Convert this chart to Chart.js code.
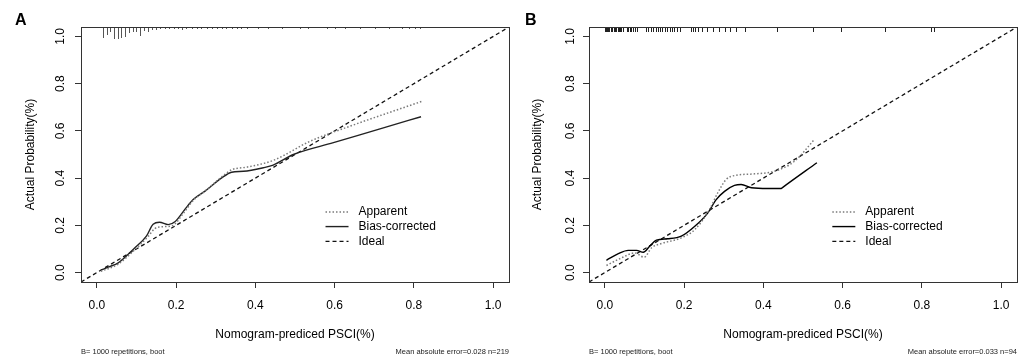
<!DOCTYPE html>
<html>
<head>
<meta charset="utf-8">
<script src="https://cdn.jsdelivr.net/npm/chart.js@4.4.1/dist/chart.umd.min.js"></script>
<style>
  body { margin: 0; background: #fff; }
  #wrap { position: relative; width: 1021px; height: 359px; }
  canvas { position: absolute; top: 0; }
</style>
</head>
<body>
<div id="wrap">
  <canvas id="chartA" width="510" height="359" style="left:0"></canvas>
  <canvas id="chartB" width="511" height="359" style="left:510px"></canvas>
</div>
<script>
// axis ticks (both panels)
const tickValues = [0, 0.2, 0.4, 0.6, 0.8, 1.0];
const ideal = [[-0.04, -0.04], [1.04, 1.04]];

// panel A  [predicted, actual]
const apparentA = [[0.01,0.005],[0.054,0.036],[0.096,0.097],[0.13,0.154],[0.146,0.186],[0.165,0.194],
  [0.19,0.198],[0.218,0.25],[0.243,0.305],[0.273,0.345],[0.315,0.405],[0.34,0.435],[0.38,0.447],
  [0.445,0.475],[0.538,0.556],[0.639,0.62],[0.82,0.725]];
const biasA = [[0.01,0.01],[0.03,0.024],[0.054,0.041],[0.096,0.105],[0.125,0.154],[0.142,0.205],
  [0.158,0.213],[0.18,0.203],[0.197,0.215],[0.222,0.267],[0.243,0.309],[0.273,0.345],[0.315,0.401],
  [0.34,0.425],[0.37,0.429],[0.42,0.444],[0.445,0.455],[0.496,0.5],[0.597,0.55],[0.723,0.613],[0.818,0.66]];
// rug of predicted values on top, with frequency
const rugAx = [0.015,0.025,0.034,0.044,0.053,0.061,0.072,0.08,0.09,0.099,0.109,0.119,0.129,0.139,0.149,
  0.16,0.171,0.181,0.194,0.205,0.214,0.226,0.239,0.252,0.264,0.277,0.29,0.302,0.315,0.327,0.34,0.353,
  0.365,0.378,0.407,0.433,0.466,0.513,0.534,0.58,0.601,0.626,0.664,0.702,0.736,0.77,0.787,0.803,0.816];
const rugAn = [11,8,5,12,12,11,10,6,5,5,9,4,5,3,3,2,2,2,2,2,3,2,2,2,2,2,2,2,2,2,2,2,
  2,2,2,2,2,2,2,2,2,2,2,2,2,2,2,2,2];

// panel B
const apparentB = [[0.004,0.03],[0.042,0.062],[0.076,0.083],[0.099,0.065],[0.118,0.105],[0.143,0.123],
  [0.193,0.147],[0.227,0.182],[0.264,0.267],[0.285,0.338],[0.306,0.394],[0.327,0.411],[0.378,0.418],
  [0.428,0.429],[0.479,0.472],[0.529,0.564]];
const biasB = [[0.004,0.052],[0.034,0.08],[0.059,0.094],[0.08,0.094],[0.097,0.086],[0.113,0.111],
  [0.13,0.137],[0.159,0.143],[0.193,0.154],[0.227,0.196],[0.26,0.253],[0.281,0.309],[0.302,0.344],
  [0.327,0.369],[0.344,0.373],[0.37,0.359],[0.411,0.356],[0.445,0.356],[0.449,0.361],[0.535,0.465]];
const rugBx = [0,0.002,0.004,0.006,0.008,0.01,0.015,0.018,0.022,0.025,0.029,0.032,0.035,0.039,0.042,
  0.046,0.055,0.059,0.064,0.067,0.071,0.076,0.08,0.103,0.109,0.116,0.122,0.128,0.134,0.139,0.144,
  0.151,0.158,0.164,0.17,0.175,0.181,0.189,0.218,0.222,0.228,0.235,0.244,0.259,0.273,0.287,0.302,
  0.317,0.331,0.354,0.434,0.526,0.596,0.707,0.824,0.831];

const FONT = "'Liberation Sans', Arial, sans-serif";
const toXY = arr => arr.map(p => ({x: p[0], y: p[1]}));

const decor = {
  id: 'decor',
  afterDatasetsDraw(chart, args, o) {
    const {ctx, chartArea: a, scales: {x, y}} = chart;
    ctx.save();
    // rug
    ctx.strokeStyle = o.rugColor;
    ctx.lineWidth = 1;
    o.rugX.forEach((v, i) => {
      const px = Math.round(x.getPixelForValue(v)) + 0.5;
      const len = o.rugN ? o.rugN[i] * o.rugUnit : o.rugUnit;
      ctx.beginPath();
      ctx.moveTo(px, a.top);
      ctx.lineTo(px, a.top + len);
      ctx.stroke();
    });
    // box
    ctx.strokeStyle = '#333';
    ctx.strokeRect(Math.round(a.left) + 0.5, Math.round(a.top) + 0.5,
      Math.round(a.right - a.left), Math.round(a.bottom - a.top));
    // legend
    const lx = x.getPixelForValue(o.legendAt[0]);
    let ly = y.getPixelForValue(o.legendAt[1]);
    ctx.font = '12px ' + FONT;
    ctx.textBaseline = 'middle';
    ctx.textAlign = 'left';
    chart.data.datasets.forEach(ds => {
      ctx.save();
      ctx.strokeStyle = ds.borderColor;
      ctx.lineWidth = ds.borderWidth;
      ctx.setLineDash(ds.borderDash || []);
      ctx.beginPath();
      ctx.moveTo(lx, ly);
      ctx.lineTo(lx + 23, ly);
      ctx.stroke();
      ctx.restore();
      ctx.fillStyle = '#000';
      ctx.fillText(ds.label, lx + 33, ly);
      ly += 14.7;
    });
    // panel letter
    ctx.font = 'bold 16px ' + FONT;
    ctx.fillStyle = '#000';
    ctx.textBaseline = 'alphabetic';
    ctx.fillText(o.letter, o.letterX, 25);
    // footers
    ctx.font = '7.5px ' + FONT;
    ctx.fillStyle = '#222';
    ctx.textBaseline = 'middle';
    ctx.fillText('B= 1000 repetitions, boot', a.left, 352);
    ctx.textAlign = 'right';
    ctx.fillText(o.footer, a.right, 352);
    ctx.restore();
  }
};

function makeChart(id, apparent, bias, opts) {
  return new Chart(document.getElementById(id), {
    type: 'scatter',
    data: {
      datasets: [
        {label: 'Apparent', data: toXY(apparent), borderColor: '#7a7a7a', borderWidth: 1.5,
          borderDash: [1.5, 2]},
        {label: 'Bias-corrected', data: toXY(bias), borderColor: opts.biasColor, borderWidth: 1.4},
        {label: 'Ideal', data: toXY(ideal), borderColor: '#111', borderWidth: 1.3,
          borderDash: [4, 3], cubicInterpolationMode: 'default', tension: 0}
      ]
    },
    options: {
      responsive: false,
      animation: false,
      devicePixelRatio: 1,
      showLine: true,
      elements: {
        point: {radius: 0, hoverRadius: 0},
        line: {cubicInterpolationMode: 'monotone', fill: false}
      },
      layout: {padding: {left: 0, right: opts.padRight, top: 27, bottom: 0}},
      plugins: {
        legend: {display: false},
        tooltip: {enabled: false},
        decor: opts.decor
      },
      scales: {
        x: {
          type: 'linear', min: -0.04, max: 1.04,
          afterBuildTicks: s => { s.ticks = tickValues.map(v => ({value: v})); },
          afterFit: s => { s.height = 77; s.paddingLeft = 0; s.paddingRight = 0; },
          grid: {display: true, drawOnChartArea: false, drawTicks: true, tickLength: 6, color: '#333'},
          border: {display: true, color: '#333'},
          ticks: {padding: 10, color: '#000', font: {family: FONT, size: 12},
            callback: v => v.toFixed(1)},
          title: {display: true, text: 'Nomogram-prediced PSCI(%)', color: '#000',
            font: {family: FONT, size: 12}, padding: {top: 0, bottom: 17}}
        },
        y: {
          type: 'linear', min: -0.04, max: 1.04,
          afterBuildTicks: s => { s.ticks = tickValues.map(v => ({value: v})); },
          afterFit: s => { s.width = opts.yWidth; s.paddingTop = 0; s.paddingBottom = 0; },
          grid: {display: true, drawOnChartArea: false, drawTicks: true, tickLength: 6, color: '#333'},
          border: {display: true, color: '#333'},
          ticks: {padding: opts.yTickPad, color: '#000', font: {family: FONT, size: 12},
            minRotation: 90, maxRotation: 90, crossAlign: 'center',
            callback: v => v.toFixed(1)},
          title: {display: true, text: 'Actual Probability(%)', color: '#000',
            font: {family: FONT, size: 12}, padding: {top: opts.yTitlePad, bottom: 0}}
        }
      }
    },
    plugins: [decor]
  });
}

makeChart('chartA', apparentA, biasA, {
  biasColor: '#222', padRight: 1, yWidth: 81, yTickPad: 6, yTitlePad: 23,
  decor: {rugX: rugAx, rugN: rugAn, rugUnit: 1, rugColor: '#555', legendAt: [0.577, 0.257],
    letter: 'A', letterX: 15, footer: 'Mean absolute error=0.028 n=219'}
});
makeChart('chartB', apparentB, biasB, {
  biasColor: '#000', padRight: 4, yWidth: 79, yTickPad: 4, yTitlePad: 20,
  decor: {rugX: rugBx, rugUnit: 5, rugColor: '#222', legendAt: [0.574, 0.257],
    letter: 'B', letterX: 15, footer: 'Mean absolute error=0.033 n=94'}
});
</script>
</body>
</html>
